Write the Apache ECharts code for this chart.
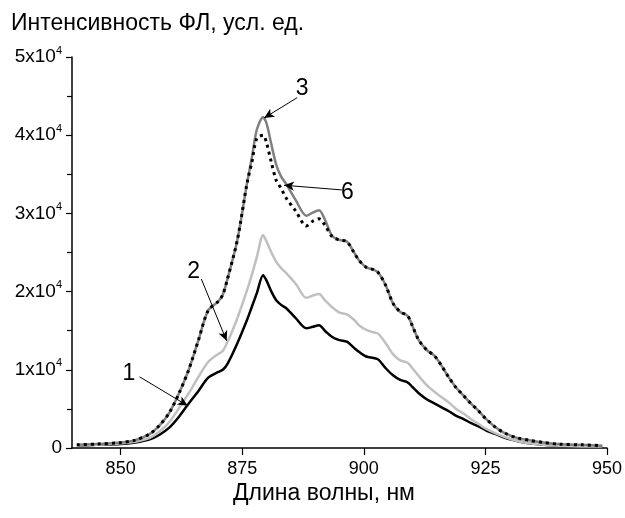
<!DOCTYPE html>
<html>
<head>
<meta charset="utf-8">
<script src="https://cdn.jsdelivr.net/npm/echarts@6/dist/echarts.min.js"></script>
<style>html,body{margin:0;padding:0;background:#fff}#c{width:625px;height:518px}</style>
</head>
<body>
<div id="c"></div>
<script>
// Wavelength, nm
const wavelengths = [841, 845, 850, 853, 856, 858, 860, 862, 864, 866, 868, 870, 871, 872, 874, 876, 877, 878, 879.3, 880, 881, 882, 883, 884, 886, 888.2, 889.5, 890.8, 892, 893.5, 895, 896.5, 898, 899, 900.5, 902, 903, 904.5, 906, 907.5, 909, 910, 911.3, 913, 914.5, 916, 917.5, 919, 920.5, 922, 923.5, 925, 927, 929, 931.5, 934, 937, 940, 945, 949];
// PL intensity, units of 10^4
const curve1 = [0.03, 0.04, 0.05, 0.07, 0.11, 0.17, 0.26, 0.40, 0.57, 0.73, 0.90, 0.97, 1.00, 1.08, 1.34, 1.64, 1.81, 1.98, 2.21, 2.14, 2.00, 1.89, 1.83, 1.79, 1.66, 1.53, 1.55, 1.57, 1.50, 1.42, 1.38, 1.36, 1.28, 1.23, 1.17, 1.15, 1.13, 1.02, 0.93, 0.87, 0.84, 0.78, 0.70, 0.62, 0.57, 0.52, 0.47, 0.41, 0.37, 0.32, 0.28, 0.23, 0.18, 0.13, 0.09, 0.06, 0.04, 0.03, 0.02, 0.02];
const curve2 = [0.03, 0.04, 0.06, 0.08, 0.13, 0.21, 0.33, 0.51, 0.70, 0.91, 1.10, 1.20, 1.24, 1.36, 1.66, 2.02, 2.22, 2.44, 2.72, 2.64, 2.50, 2.38, 2.30, 2.24, 2.10, 1.92, 1.95, 1.97, 1.89, 1.80, 1.73, 1.71, 1.64, 1.57, 1.51, 1.48, 1.46, 1.34, 1.20, 1.12, 1.09, 1.02, 0.92, 0.80, 0.72, 0.65, 0.58, 0.50, 0.44, 0.37, 0.31, 0.25, 0.19, 0.14, 0.09, 0.06, 0.04, 0.03, 0.02, 0.02];
const curve3 = [0.04, 0.05, 0.07, 0.10, 0.18, 0.29, 0.45, 0.70, 1.00, 1.38, 1.76, 1.87, 1.96, 2.17, 2.66, 3.39, 3.72, 4.07, 4.23, 4.15, 3.88, 3.62, 3.47, 3.38, 3.17, 2.97, 3.01, 3.04, 2.92, 2.71, 2.66, 2.64, 2.50, 2.40, 2.31, 2.28, 2.24, 2.08, 1.85, 1.74, 1.69, 1.56, 1.38, 1.25, 1.18, 1.05, 0.90, 0.77, 0.67, 0.57, 0.48, 0.38, 0.27, 0.19, 0.13, 0.10, 0.07, 0.05, 0.04, 0.03];
const curve6 = [0.04, 0.05, 0.07, 0.10, 0.18, 0.29, 0.45, 0.70, 1.00, 1.38, 1.76, 1.87, 1.96, 2.17, 2.66, 3.39, 3.66, 3.96, 4.00, 3.90, 3.65, 3.42, 3.32, 3.20, 3.03, 2.84, 2.90, 2.93, 2.85, 2.70, 2.66, 2.64, 2.50, 2.40, 2.31, 2.28, 2.24, 2.08, 1.85, 1.74, 1.69, 1.56, 1.38, 1.25, 1.18, 1.05, 0.90, 0.77, 0.67, 0.57, 0.48, 0.38, 0.27, 0.19, 0.13, 0.10, 0.07, 0.05, 0.04, 0.03];
const xTicks = [850, 875, 900, 925, 950];
const yTicks = [0, 1, 2, 3, 4, 5];
// Annotations: label text, label position, arrow start, arrow tip (data coords)
const annotations = [
  {text: '1', at: [851.7, 0.95], from: [853.9, 0.91], to: [863.8, 0.54]},
  {text: '2', at: [865.0, 2.25], from: [866.6, 2.16], to: [871.8, 1.37]},
  {text: '3', at: [887.3, 4.59], from: [886.3, 4.48], to: [879.5, 4.22]},
  {text: '6', at: [896.6, 3.26], from: [895.5, 3.30], to: [883.6, 3.36]}
];

const FONT = '"Liberation Sans", Arial, sans-serif';
const pairs = arr => wavelengths.map((w, i) => [w, arr[i]]);

const chart = echarts.init(document.getElementById('c'), null, {renderer: 'canvas'});
chart.setOption({
  animation: false,
  backgroundColor: '#fff',
  title: [
    {text: 'Интенсивность ФЛ, усл. ед.', left: 11, top: 12, padding: 0,
     textStyle: {fontFamily: FONT, fontSize: 23, fontWeight: 'normal', color: '#000'}},
    {text: 'Длина волны, нм', left: 233, top: 482, padding: 0,
     textStyle: {fontFamily: FONT, fontSize: 23, fontWeight: 'normal', color: '#000'}}
  ],
  grid: {left: 72, right: 17, top: 57, bottom: 70, containLabel: false},
  xAxis: {
    type: 'value', min: 840, max: 950,
    axisLine: {show: true, lineStyle: {color: '#000', width: 1.5}},
    axisTick: {show: true, length: 7, lineStyle: {color: '#000', width: 1.2}, customValues: xTicks},
    axisLabel: {fontFamily: FONT, fontSize: 18, color: '#000', margin: 12, customValues: xTicks},
    splitLine: {show: false}
  },
  yAxis: {
    type: 'value', min: 0, max: 5, interval: 1,
    axisLine: {show: true, lineStyle: {color: '#000', width: 1.5}},
    axisTick: {show: true, length: 6, lineStyle: {color: '#000', width: 1.2}},
    minorTick: {show: true, splitNumber: 2, length: 5, lineStyle: {color: '#000', width: 1.2}},
    axisLabel: {
      fontFamily: FONT, fontSize: 19, color: '#000', margin: 10,
      formatter: v => v === 0 ? '{a|0}' : '{a|' + v + 'x10}{s|4}',
      rich: {
        a: {fontFamily: FONT, fontSize: 19, color: '#000'},
        s: {fontFamily: FONT, fontSize: 11, color: '#000', padding: [0, 0, 13, 0]}
      }
    },
    splitLine: {show: false}
  },
  series: [
    {type: 'line', name: '1', data: pairs(curve1), showSymbol: false, smooth: 0.3,
     lineStyle: {color: '#000', width: 2.5}, z: 2,
     markLine: {
       silent: true, animation: false, symbol: ['none', 'arrow'], symbolSize: [7, 10],
       lineStyle: {color: '#000', width: 1, type: 'solid'}, label: {show: false},
       data: annotations.map(a => [{coord: a.from}, {coord: a.to}])
     },
     markPoint: {
       silent: true, animation: false, symbol: 'circle', symbolSize: 1,
       itemStyle: {color: 'rgba(0,0,0,0)'},
       label: {show: true, position: 'inside', fontFamily: FONT, fontSize: 23, color: '#000', formatter: p => p.name},
       data: annotations.map(a => ({name: a.text, coord: a.at}))
     }},
    {type: 'line', name: '2', data: pairs(curve2), showSymbol: false, smooth: 0.3,
     lineStyle: {color: '#c0c0c0', width: 2.5}, z: 3},
    {type: 'line', name: '3', data: pairs(curve3), showSymbol: false, smooth: 0.3,
     lineStyle: {color: '#808080', width: 2.5}, z: 4},
    {type: 'line', name: '6', data: pairs(curve6), showSymbol: false, smooth: 0.3,
     lineStyle: {color: '#000', width: 3, type: [3, 4]}, z: 5}
  ]
});
</script>
</body>
</html>
